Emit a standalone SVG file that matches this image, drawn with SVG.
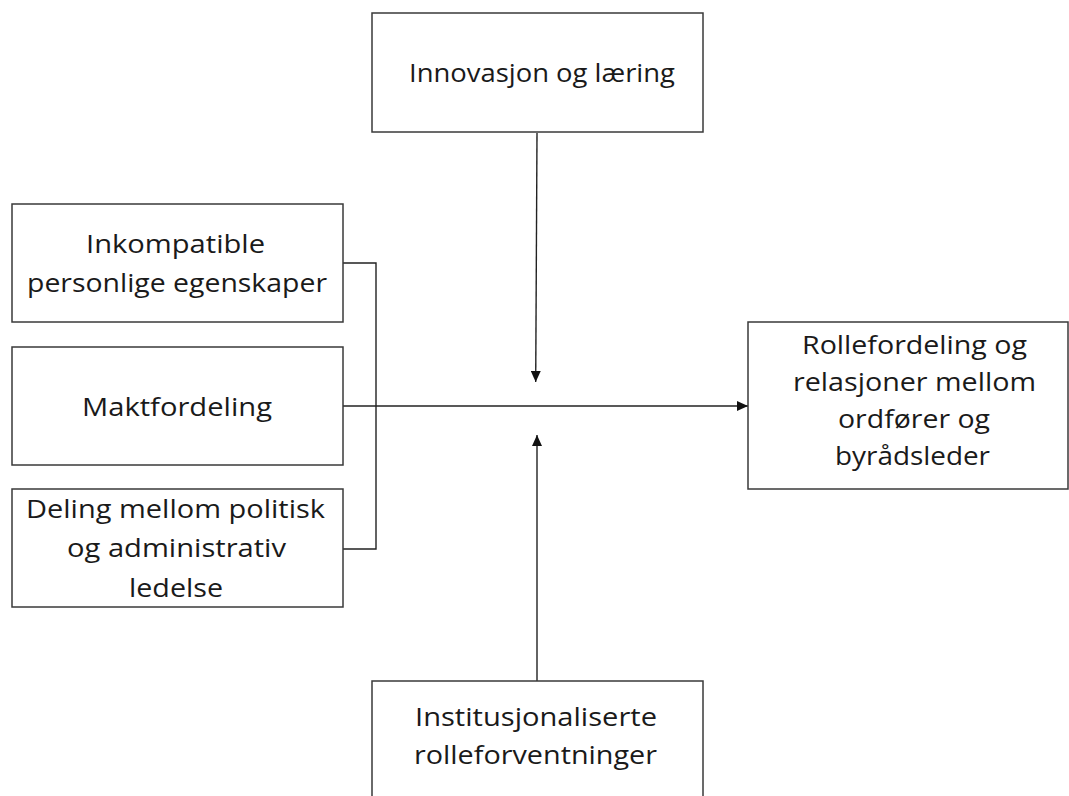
<svg xmlns="http://www.w3.org/2000/svg" width="1069" height="796" viewBox="0 0 1069 796">
<style>
.box{fill:#fff;stroke:#3a3a3a;stroke-width:1.5}
.t{font-family:"Open Sans","Liberation Sans",sans-serif;font-size:26px;fill:#1a1a1a;text-anchor:middle}
.c{fill:none;stroke:#222;stroke-width:1.4}
</style>
<defs>
<marker id="ah" markerUnits="userSpaceOnUse" markerWidth="12" markerHeight="10" refX="11" refY="5" orient="auto">
<path d="M0,0 L11,5 L0,10 z" fill="#111"/>
</marker>
</defs>
<rect width="1069" height="796" fill="#fff"/>
<g id="connectors">
<polyline class="c" points="343,263 376,263 376,549 343,549"/>
<line class="c" x1="343" y1="406" x2="748" y2="406" marker-end="url(#ah)"/>
<line class="c" x1="537" y1="133" x2="535.7" y2="382" marker-end="url(#ah)"/>
<line class="c" x1="537" y1="681" x2="537" y2="435" marker-end="url(#ah)"/>
</g>
<g id="node-innovasjon">
<rect class="box" x="372" y="13" width="331" height="119"/>
<text class="t" x="542" y="82" textLength="266" lengthAdjust="spacingAndGlyphs">Innovasjon og læring</text>
</g>
<g id="node-inkompatible">
<rect class="box" x="12" y="204" width="331" height="118"/>
<text class="t" x="175.5" y="253" textLength="179" lengthAdjust="spacingAndGlyphs">Inkompatible</text>
<text class="t" x="177" y="292" textLength="300" lengthAdjust="spacingAndGlyphs">personlige egenskaper</text>
</g>
<g id="node-maktfordeling">
<rect class="box" x="12" y="347" width="331" height="118"/>
<text class="t" x="177" y="416" textLength="190" lengthAdjust="spacingAndGlyphs">Maktfordeling</text>
</g>
<g id="node-deling">
<rect class="box" x="12" y="489" width="331" height="118"/>
<text class="t" x="175.5" y="518" textLength="299" lengthAdjust="spacingAndGlyphs">Deling mellom politisk</text>
<text class="t" x="176.5" y="557" textLength="219" lengthAdjust="spacingAndGlyphs">og administrativ</text>
<text class="t" x="176" y="597" textLength="94" lengthAdjust="spacingAndGlyphs">ledelse</text>
</g>
<g id="node-rollefordeling">
<rect class="box" x="748" y="322" width="320" height="167"/>
<text class="t" x="914.5" y="354" textLength="225" lengthAdjust="spacingAndGlyphs">Rollefordeling og</text>
<text class="t" x="914.5" y="391" textLength="243" lengthAdjust="spacingAndGlyphs">relasjoner mellom</text>
<text class="t" x="914" y="428" textLength="152" lengthAdjust="spacingAndGlyphs">ordfører og</text>
<text class="t" x="912.5" y="465" textLength="155" lengthAdjust="spacingAndGlyphs">byrådsleder</text>
</g>
<g id="node-institusjonaliserte">
<rect class="box" x="372" y="681" width="331" height="130"/>
<text class="t" x="536" y="726" textLength="242" lengthAdjust="spacingAndGlyphs">Institusjonaliserte</text>
<text class="t" x="535.5" y="764" textLength="243" lengthAdjust="spacingAndGlyphs">rolleforventninger</text>
</g>
</svg>
